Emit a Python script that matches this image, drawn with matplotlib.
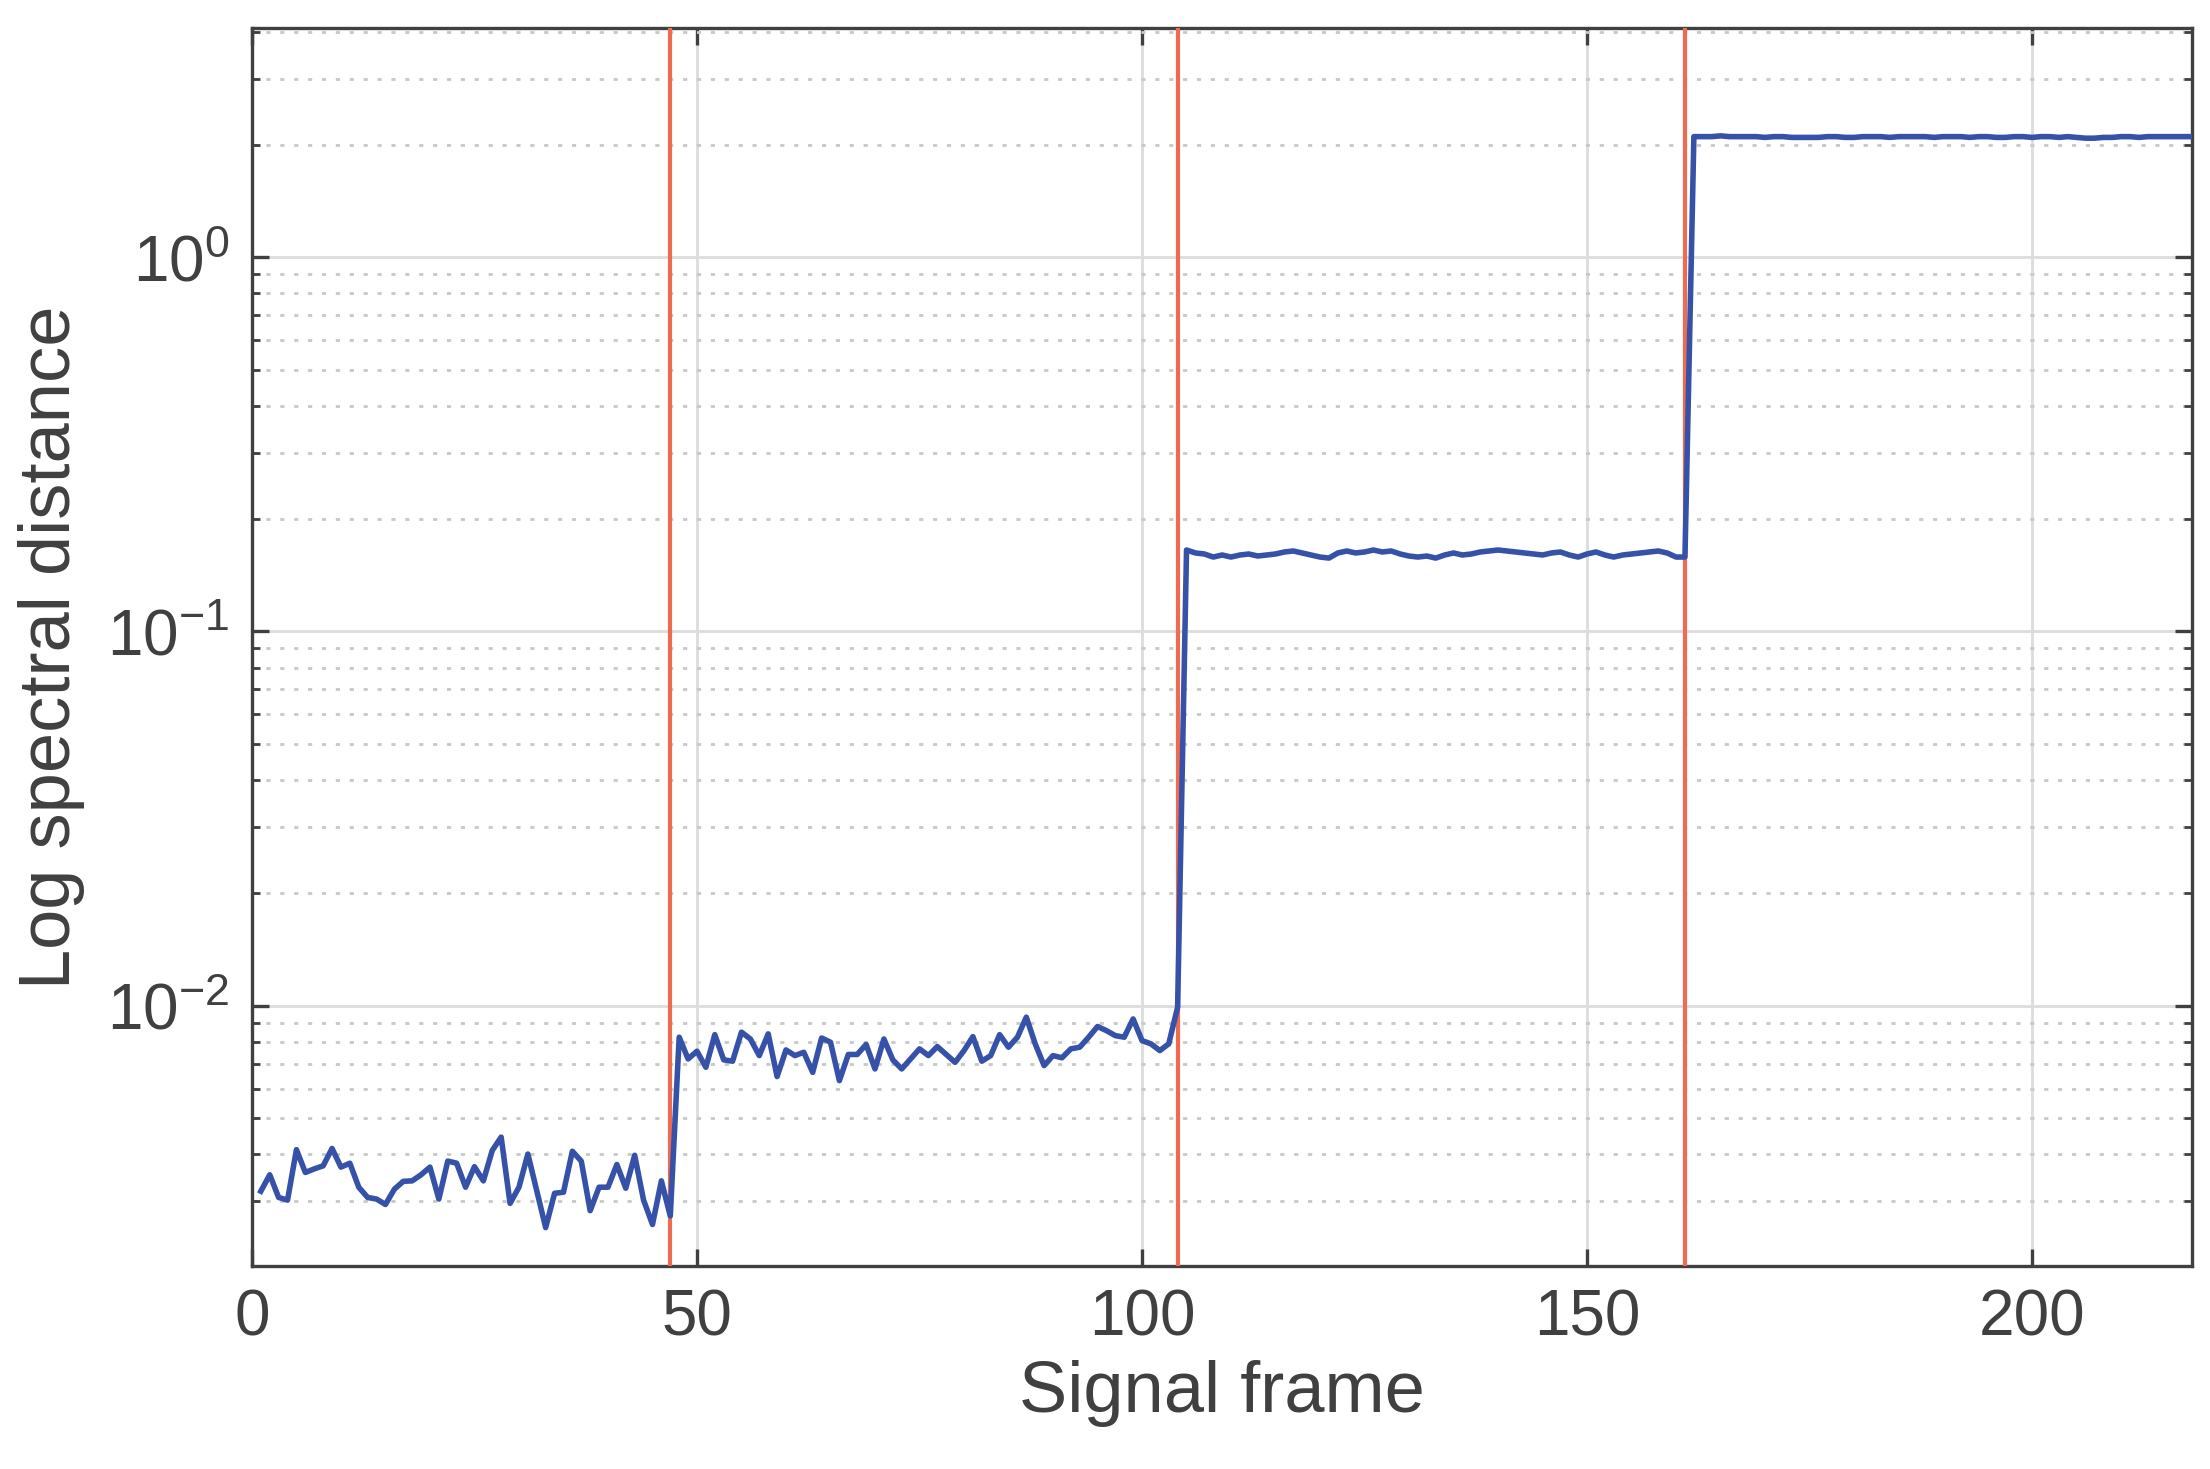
import numpy as np
import matplotlib
matplotlib.use("Agg")
import matplotlib.pyplot as plt
from matplotlib.ticker import LogLocator, NullFormatter, FuncFormatter

# zoom-pixel readings for segments 1 and 2 (converted to values below via log scale reading)
seg1_px = [712,662,730,738,587,656,645,635,583,640,628,700,730,735,752,705,682,680,662,640,
           735,622,628,700,638,680,590,550,748,700,600,710,820,718,715,592,622,770,700,700,
           632,702,604,738,812,680,785]
seg2_px = [250,315,292,340,242,318,322,235,255,305,240,368,288,305,295,355,252,265,380,302,
           302,272,345,255,318,345,315,285,305,278,302,325,290,248,322,305,242,280,250,190,
           270,335,305,312,285,280,250,218,230,245,250,195,260,270,290,270,160]
seg1 = [round(10 ** (-2 - (p - 155) / 1122), 5) for p in seg1_px]
seg2 = [round(10 ** (-2 - (p - 155) / 1122), 5) for p in seg2_px]
seg3 = [0.165,0.162,0.161,0.158,0.160,0.158,0.160,0.161,0.159,0.160,0.161,0.163,0.164,0.162,0.160,
        0.158,0.157,0.162,0.164,0.162,0.163,0.165,0.163,0.164,0.161,0.159,0.158,0.159,0.157,0.160,
        0.162,0.160,0.161,0.163,0.164,0.165,0.164,0.163,0.162,0.161,0.160,0.162,0.163,0.160,0.158,
        0.161,0.163,0.160,0.158,0.160,0.161,0.162,0.163,0.164,0.162,0.158,0.158]
seg4 = [2.10,2.10,2.10,2.11,2.10,2.10,2.10,2.10,2.09,2.10,2.10,2.09,2.09,2.09,2.09,2.10,2.10,2.09,
        2.09,2.10,2.10,2.10,2.09,2.10,2.10,2.10,2.10,2.09,2.10,2.10,2.10,2.09,2.10,2.10,2.09,2.09,
        2.10,2.10,2.09,2.10,2.10,2.09,2.10,2.09,2.08,2.08,2.09,2.09,2.10,2.10,2.09,2.10,2.10,2.10,
        2.10,2.10,2.10]
values = seg1 + seg2 + seg3 + seg4
frames = np.arange(1, len(values) + 1)
changepoints = [47, 104, 161]

plt.rcParams['font.family'] = ['Liberation Sans', 'DejaVu Sans']
plt.rcParams['mathtext.fontset'] = 'custom'
plt.rcParams['mathtext.rm'] = 'Liberation Sans'
txt = '#404040'
fig = plt.figure(figsize=(11.05, 7.345), dpi=200)
ax = fig.add_axes([0.114, 0.138, 0.878, 0.843])
ax.set_yscale('log')
for c in changepoints:
    ax.axvline(c, color='#EE6A50', lw=1.5, zorder=3)
ax.plot(frames, values, color='#3552A8', lw=2.0, zorder=4)
ax.set_xlim(0, 218)
ax.set_ylim(0.00201, 4.1)
ax.set_xticks([0, 50, 100, 150, 200])
ax.yaxis.set_major_locator(LogLocator(base=10, numticks=10))
ax.yaxis.set_major_formatter(FuncFormatter(
    lambda v, p: '10$^{\\mathregular{%d}}$' % int(round(np.log10(v)))))
ax.yaxis.set_minor_locator(LogLocator(base=10, subs=np.arange(2, 10), numticks=20))
ax.yaxis.set_minor_formatter(NullFormatter())
ax.grid(True, which='major', color='#dcdcdc', lw=1.0)
ax.grid(True, which='minor', axis='y', color='#c8c8c8', lw=1.0, ls=(0, (1.5, 3.5)))
ax.tick_params(which='both', direction='in', top=True, right=True, colors=txt, labelsize=23)
ax.tick_params(which='major', length=6, width=1.2, pad=8)
ax.tick_params(which='minor', length=3, width=1.0)
for s in ax.spines.values():
    s.set_color(txt); s.set_linewidth(1.2)
ax.set_xlabel('Signal frame', fontsize=26, color=txt, labelpad=4)
ax.set_ylabel('Log spectral distance', fontsize=26, color=txt, labelpad=8)
fig.savefig('out.png', dpi=200)
